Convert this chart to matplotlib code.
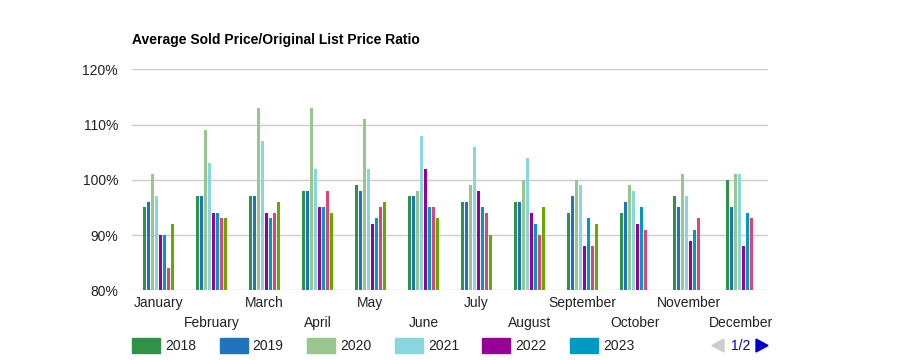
import matplotlib
matplotlib.use("Agg")
import matplotlib.pyplot as plt
from matplotlib.patches import Rectangle, Polygon

plt.rcParams['font.family'] = ['Liberation Sans', 'DejaVu Sans']

# データ
months = ["January", "February", "March", "April", "May", "June",
          "July", "August", "September", "October", "November", "December"]
years = ["2018", "2019", "2020", "2021", "2022", "2023", "2024", "2025"]
colors = ["#2e9347", "#1f74c0", "#99c68c", "#88d6df",
          "#990099", "#0099c6", "#dd4477", "#66aa00"]

r2018 = [95, 97, 97, 98, 99, 97, 96, 96, 94, 94, 97, 100]
r2019 = [96, 97, 97, 98, 98, 97, 96, 96, 97, 96, 95, 95]
r2020 = [101, 109, 113, 113, 111, 98, 99, 100, 100, 99, 101, 101]
r2021 = [97, 103, 107, 102, 102, 108, 106, 104, 99, 98, 97, 101]
r2022 = [90, 94, 94, 95, 92, 102, 98, 94, 88, 92, 89, 88]
r2023 = [90, 94, 93, 95, 93, 95, 95, 92, 93, 95, 91, 94]
r2024 = [84, 93, 94, 98, 95, 95, 94, 90, 88, 91, 93, 93]
r2025 = [92, 93, 96, 94, 96, 93, 90, 95, 92, None, None, None]
series = [r2018, r2019, r2020, r2021, r2022, r2023, r2024, r2025]

fig = plt.figure(figsize=(9, 3.6), dpi=100)
ax = fig.add_axes([132 / 900, 1 - 290.3 / 360, 636 / 900, 221 / 360])

bar_w = 3.2 / 53
step = 4 / 53
n = len(series)
for i, (vals, col) in enumerate(zip(series, colors)):
    off = (i - (n - 1) / 2) * step
    for j, v in enumerate(vals):
        if v is None:
            continue
        ax.bar(j + off, v - 80, bottom=80, width=bar_w, color=col,
               linewidth=0, zorder=3)

ax.set_xlim(-0.5, 11.5)
ax.set_ylim(80, 120)
ax.set_yticks([80, 90, 100, 110, 120])
ax.set_yticklabels([f"{t}%" for t in [80, 90, 100, 110, 120]], fontsize=10, color="#222222")
ax.yaxis.grid(True, color="#cccccc", linewidth=1, zorder=0)
ax.tick_params(axis="y", length=0, pad=10)
ax.tick_params(axis="x", length=0)
ax.set_xticks([])
for s in ax.spines.values():
    s.set_visible(False)

# 月ラベル（2段）
for j, m in enumerate(months):
    y = 303 if j % 2 == 0 else 323
    ax.text(j, 1 - (y - 69.3) / 221, m, transform=ax.get_xaxis_transform(),
            ha="center", va="center", fontsize=10, color="#222222")

fig.text(132 / 900, 1 - 40 / 360, "Average Sold Price/Original List Price Ratio",
         fontsize=10, fontweight="bold", color="#000000", va="center", ha="left")

# 凡例（1ページ目）
for k in range(6):
    x0 = 132 + k * 87.6
    fig.patches.append(Rectangle((x0 / 900, 1 - 353 / 360), 28 / 900, 15 / 360,
                                 transform=fig.transFigure, color=colors[k]))
    fig.text((x0 + 33) / 900, 1 - 345.5 / 360, years[k], fontsize=10,
             color="#222222", va="center", ha="left")

fig.patches.append(Polygon([(712 / 900, 1 - 345.5 / 360), (724 / 900, 1 - 339 / 360),
                            (724 / 900, 1 - 352 / 360)], closed=True,
                           transform=fig.transFigure, color="#cccccc"))
fig.text(741 / 900, 1 - 345.5 / 360, "1/2", fontsize=10, color="#0000cc",
         va="center", ha="center")
fig.patches.append(Polygon([(768 / 900, 1 - 345.5 / 360), (756 / 900, 1 - 339 / 360),
                            (756 / 900, 1 - 352 / 360)], closed=True,
                           transform=fig.transFigure, color="#0000cc"))

fig.savefig("out.png", dpi=100)
